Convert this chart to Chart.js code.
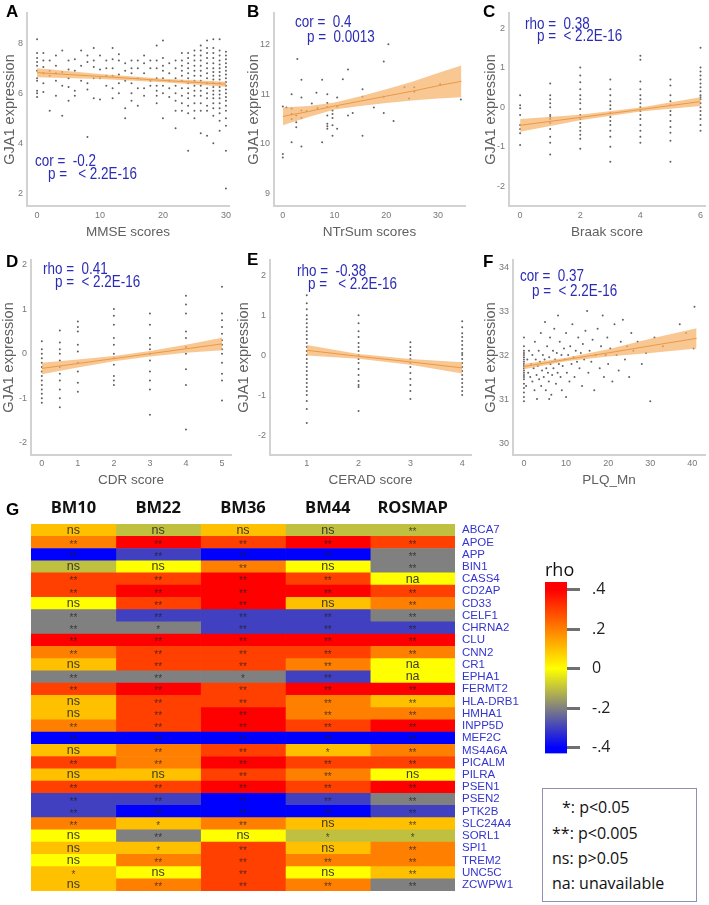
<!DOCTYPE html>
<html><head><meta charset="utf-8">
<script src="https://cdn.jsdelivr.net/npm/chart.js@4.4.1/dist/chart.umd.min.js"></script>
<style>
body{margin:0;background:#fff;width:709px;height:905px;position:relative;overflow:hidden;font-family:"Liberation Sans",Arial,sans-serif}
canvas{position:absolute}
.lbl{position:absolute;font:bold 17px/17px "Liberation Sans",Arial,sans-serif;color:#000}
#rho{position:absolute;left:545px;top:560px;font:18px/18px "Open Sans",sans-serif;color:#111}
#leg{position:absolute;left:542px;top:788px;width:153px;height:112px;border:1px solid #8f8fb0;font:16px "Open Sans",sans-serif;color:#111;box-sizing:content-box}
#leg div{position:absolute;left:9px;line-height:20px}
</style></head><body>
<canvas id="cA" width="235" height="245" style="left:0;top:0"></canvas>
<canvas id="cB" width="235" height="245" style="left:235px;top:0"></canvas>
<canvas id="cC" width="239" height="245" style="left:470px;top:0"></canvas>
<canvas id="cD" width="235" height="250" style="left:0;top:245px"></canvas>
<canvas id="cE" width="240" height="250" style="left:235px;top:245px"></canvas>
<canvas id="cF" width="234" height="250" style="left:475px;top:245px"></canvas>
<canvas id="cG" width="540" height="410" style="left:0;top:495px"></canvas>
<canvas id="cBar" width="120" height="220" style="left:520px;top:555px"></canvas>
<div class="lbl" style="left:6px;top:3px">A</div>
<div class="lbl" style="left:247px;top:3px">B</div>
<div class="lbl" style="left:483px;top:3px">C</div>
<div class="lbl" style="left:6px;top:253px">D</div>
<div class="lbl" style="left:247px;top:251px">E</div>
<div class="lbl" style="left:483px;top:253px">F</div>
<div class="lbl" style="left:6px;top:501px">G</div>
<div id="rho">rho</div>
<div id="leg">
<div style="top:8px;left:19px">*: p&lt;0.05</div>
<div style="top:34px">**: p&lt;0.005</div>
<div style="top:59px">ns: p&gt;0.05</div>
<div style="top:84px">na: unavailable</div>
</div>
<script>
// ---------- Panel A: MMSE ----------
const mmseX = [0,1,2,3,4,5,6,7,8,9,10,11,12,13,14,15,16,17,18,19,20,21,22,23,24,25,26,27,28,29,30];
const mmseY = [
 [8.15,7.6,7.4,7.25,7.1,6.9,6.6,6.5,6.1,6.0,5.85],
 [7.6,7.3,7.05,6.8,6.4,6.05],
 [7.3,6.9,6.7,5.3],
 [7.5,7.1,6.8,6.5,5.9],
 [7.7,6.85,6.3,5.1],
 [7.3,6.95,6.6,6.25,5.7],
 [7.35,6.9,6.1,5.9],
 [7.7,7.1,6.5],
 [7.5,7.25,6.4,6.15,4.25],
 [7.8,7.3,7.05,6.6,5.8],
 [7.5,6.95,6.6,5.75],
 [7.3,7.0,6.7,6.3],
 [7.8,7.35,7.0,6.7,6.2,5.8],
 [7.55,7.3,6.75,6.4,6.0],
 [7.2,6.9,6.5,5.4,5.0],
 [7.3,7.0,6.8,6.4,6.0,5.7],
 [7.3,7.0,6.6,6.2,5.5],
 [7.5,7.2,6.8,6.2,5.9],
 [7.3,7.0,6.5,6.3],
 [7.9,7.3,7.0,6.6,6.3,6.1,5.9,5.6],
 [8.1,7.4,7.1,6.9,6.6,6.3,6.0,5.0],
 [7.2,6.8,6.5,6.2,5.85],
 [7.3,7.0,6.6,6.3,6.0,5.7,5.3,4.6],
 [7.6,7.3,7.1,6.9,6.7,6.5,6.2,5.9,5.6,5.3],
 [7.6,7.4,7.2,7.0,6.8,6.6,6.4,6.2,6.0,5.8,5.5,5.2,3.7],
 [7.7,7.5,7.3,7.1,6.9,6.7,6.5,6.3,6.1,5.9,5.6,5.3,5.0],
 [7.9,7.7,7.5,7.3,7.1,6.9,6.7,6.5,6.3,6.1,5.9,5.6,5.3,4.4],
 [8.1,7.8,7.6,7.4,7.2,7.0,6.8,6.6,6.4,6.2,6.0,5.8,5.5,5.3,4.3],
 [8.15,7.8,7.6,7.4,7.2,7.0,6.85,6.7,6.55,6.4,6.25,6.1,5.95,5.8,5.6,5.4,5.1,4.0],
 [8.15,7.7,7.5,7.3,7.15,7.0,6.85,6.7,6.55,6.4,6.25,6.1,5.95,5.8,5.6,5.4,5.2,4.9,4.5],
 [7.65,7.5,7.35,7.2,7.05,6.9,6.75,6.6,6.45,6.3,6.15,6.0,5.85,5.7,5.5,5.3,5.0,4.7,3.7,2.2]
];
const mmseFitX = [0,10,20,30];
const mmseFit  = [6.82,6.67,6.51,6.36];
const mmseLo   = [6.64,6.57,6.44,6.26];
const mmseHi   = [7.00,6.77,6.58,6.46];

// ---------- Panel B: NTrSum ----------
const ntrPairs = [[0,10.75],[0,9.79],[0,9.72],[0.7,10.73],[1.7,10.71],[1.7,10.6],[1.7,10.5],[1.7,11.0],[1.7,10.03],
 [2.6,10.57],[2.6,10.43],[2.6,10.33],[3.6,10.67],[3.6,10.52],[3.6,10.93],[3.6,11.29],[3.6,9.94],[2.8,11.71],[4.6,10.66],
 [5.6,10.81],[6.5,11.03],[6.7,10.72],[7.6,11.29],[7.6,10.03],[8.6,11.0],[8.6,10.82],[8.6,10.74],[8.6,10.57],[8.6,10.4],
 [8.6,10.35],[8.6,10.3],[9.6,10.67],[9.6,10.6],[9.6,10.52],[9.6,10.37],[9.6,10.16],[10.5,10.93],[10.5,10.75],[10.5,10.3],
 [11.6,11.3],[12.6,11.5],[12.6,10.57],[13.5,10.62],[15.4,11.1],[15.4,10.95],[15.4,10.16],[17.6,10.73],[19.5,11.66],
 [19.5,10.95],[19.5,10.62],[20.4,12.01],[21.4,10.46],[23.5,11.14],[24.4,10.91],[25.4,11.14],[25.4,11.05],[30.4,11.2],[34.4,10.89]];
const ntrFitX = [0,5,10,15,20,25,30,34.5];
const ntrFit  = [10.55,10.65,10.76,10.86,10.96,11.06,11.17,11.26];
const ntrLo   = [10.37,10.54,10.69,10.76,10.82,10.87,10.91,10.94];
const ntrHi   = [10.73,10.76,10.83,10.96,11.10,11.25,11.43,11.58];

// ---------- Panel C: Braak ----------
const braakX = [0,1,2,3,4,5,6];
const braakY = [
 [0.3,0.05,-0.03,-0.2,-0.45,-0.55,-0.66,-0.96],
 [0.6,0.3,0.2,0.1,0.0,-0.2,-0.25,-0.3,-0.4,-0.55,-0.75,-0.9,-1.2],
 [1.0,0.8,0.63,0.45,0.3,0.2,0.1,-0.05,-0.2,-0.3,-0.4,-0.5,-0.6,-0.7,-0.8,-1.05],
 [0.7,0.45,0.3,0.15,0.05,-0.05,-0.15,-0.25,-0.35,-0.45,-0.6,-0.75,-1.0,-1.38],
 [1.3,1.2,0.65,0.45,0.3,0.2,0.1,0.0,-0.1,-0.2,-0.3,-0.45,-0.6,-0.75,-0.9],
 [0.7,0.55,0.3,0.15,0.05,-0.1,-0.2,-0.35,-0.5,-0.65,-0.85,-1.38],
 [1.5,1.0,0.9,0.8,0.7,0.6,0.5,0.4,0.3,0.25,0.2,0.1,0.0,-0.1,-0.2,-0.3,-0.45,-0.6]
];
const braakFitX = [0,2,4,6];
const braakFit  = [-0.46,-0.26,-0.06,0.14];
const braakLo   = [-0.62,-0.33,-0.11,0.03];
const braakHi   = [-0.30,-0.19,-0.01,0.25];

// ---------- Panel D: CDR ----------
const cdrX = [0,0.5,1,2,3,4,5];
const cdrY = [
 [0.28,0.1,0.0,-0.1,-0.2,-0.3,-0.4,-0.5,-0.6,-0.7,-0.8,-0.9,-1.0,-1.1],
 [0.52,0.25,0.1,0.0,-0.15,-0.3,-0.45,-0.6,-0.8,-1.0,-1.2],
 [0.72,0.6,0.5,0.2,0.05,-0.2,-0.4,-0.65,-0.85],
 [1.0,0.85,0.65,0.35,0.2,0.0,-0.1,-0.25,-0.5,-0.6,-0.7],
 [0.9,0.65,0.35,0.2,0.1,0.0,-0.15,-0.4,-0.6,-0.8,-1.37],
 [1.3,1.1,0.9,0.5,0.35,0.15,0.0,-0.35,-0.7,-1.7],
 [1.5,0.9,0.75,0.6,0.45,0.3,0.2,0.1,0.0,-0.2,-0.45,-0.6,-1.05]
];
const cdrFitX = [0,1,2,3,4,5];
const cdrFit  = [-0.33,-0.22,-0.11,0.0,0.11,0.22];
const cdrLo   = [-0.46,-0.31,-0.17,-0.06,0.02,0.08];
const cdrHi   = [-0.20,-0.13,-0.05,0.06,0.20,0.36];

// ---------- Panel E: CERAD ----------
const ceradX = [1,2,3,4];
const ceradY = [
 [1.5,1.3,1.15,1.0,0.9,0.8,0.7,0.6,0.5,0.4,0.3,0.2,0.1,0.0,-0.1,-0.2,-0.3,-0.4,-0.5,-0.6,-0.7,-0.8,-0.9,-1.0,-1.15,-1.35,-1.7],
 [1.0,0.8,0.6,0.45,0.3,0.2,0.1,0.0,-0.1,-0.2,-0.35,-0.5,-0.65,-0.75,-0.8,-1.4],
 [0.32,0.2,0.1,0.0,-0.1,-0.2,-0.3,-0.45,-0.6,-0.75,-0.9,-1.1],
 [0.85,0.7,0.55,0.45,0.35,0.25,0.15,0.05,0.0,-0.1,-0.2,-0.3,-0.4,-0.5,-0.6,-0.7,-0.8,-0.9,-1.0]
];
const ceradFitX = [1,2,3,4];
const ceradFit  = [0.12,-0.03,-0.17,-0.32];
const ceradLo   = [-0.01,-0.09,-0.24,-0.46];
const ceradHi   = [0.25,0.03,-0.10,-0.18];

// ---------- Panel F: PLQ_Mn ----------
const plqZeroY = [30.95,31.05,31.15,31.25,31.35,31.45,31.5,31.55,31.6,31.65,31.7,31.75,31.8,31.85,31.9,31.95,32.0,32.05,32.1,32.2,32.4];
const plqPairs = [[0.5,31.3],[0.8,31.9],[1,31.6],[1.2,32.1],[1.5,31.5],[1.7,31.8],[2,31.4],[2,32.0],[2.3,31.7],[2.5,31.2],
 [2.6,32.3],[2.8,31.9],[3,31.55],[3.1,31.0],[3.3,31.75],[3.5,32.1],[3.6,31.45],[3.8,31.85],[4,32.5],[4.1,31.3],[4.3,31.65],
 [4.5,32.0],[4.7,31.5],[4.9,31.9],[5,32.75],[5.2,31.2],[5.3,31.7],[5.5,32.2],[5.7,31.6],[5.9,31.4],[6,31.95],[6.2,32.4],
 [6.3,31.8],[6.5,31.1],[6.7,31.55],[6.9,32.1],[7,31.7],[7.2,32.6],[7.4,31.9],[7.6,31.35],[7.8,32.05],[8,31.6],[8.1,32.9],
 [8.3,31.8],[8.5,32.3],[8.7,31.5],[8.9,32.0],[9,31.2],[9.2,31.75],[9.5,32.15],[9.7,31.9],[10,32.5],[10.2,31.6],[10.5,32.0],
 [10.8,31.4],[11,32.2],[11.3,31.8],[11.5,32.7],[11.8,31.95],[12,31.5],[12.3,32.1],[12.6,31.85],[12.9,32.4],[13.2,31.7],
 [13.5,32.05],[13.8,31.3],[14,32.25],[14.3,31.9],[14.6,32.55],[15,33.0],[15.3,31.6],[15.6,32.1],[16,31.85],[16.3,32.35],
 [16.7,31.2],[17,32.0],[17.5,32.6],[18,31.7],[18.3,32.2],[18.7,32.9],[19,31.5],[19.4,32.0],[19.8,32.4],[20,31.8],[20.5,32.15],
 [21,31.4],[21.5,32.7],[22,32.0],[22.5,31.65],[23,32.3],[23.5,32.8],[24,31.9],[24.5,32.2],[25,31.5],[25.5,32.5],[26,32.1],
 [27,32.3],[28,31.8],[29,32.05],[30,30.95],[31,32.4],[33,32.2],[37,32.7],[38.5,32.5],[40.5,33.1],[40.3,32.15],[6,31.0],[10,31.05]];
const plqFitX = [0,10,20,30,41];
const plqFit  = [31.74,31.90,32.05,32.21,32.38];
const plqLo   = [31.68,31.86,31.97,32.05,32.15];
const plqHi   = [31.80,31.94,32.13,32.37,32.61];

// ---------- Panel G: heatmap ----------
const genes = ['ABCA7','APOE','APP','BIN1','CASS4','CD2AP','CD33','CELF1','CHRNA2','CLU','CNN2','CR1','EPHA1','FERMT2','HLA-DRB1','HMHA1','INPP5D','MEF2C','MS4A6A','PICALM','PILRA','PSEN1','PSEN2','PTK2B','SLC24A4','SORL1','SPI1','TREM2','UNC5C','ZCWPW1'];
const colNames = ['BM10','BM22','BM36','BM44','ROSMAP'];
const rhoBM10   = [0.1,0.2,-0.4,-0.1,0.3,0.3,0,-0.2,-0.2,0.4,0.2,0.1,-0.2,0.3,0.1,0.1,0.2,-0.4,0.1,0.3,0.1,0.3,-0.3,-0.3,0.2,0,0.1,0,0.1,0.1];
const rhoBM22   = [-0.1,0.4,-0.3,0,0.3,0.4,0.3,-0.3,-0.2,0.4,0.3,0.3,-0.2,0.4,0.3,0.3,0.3,-0.4,0.2,0.2,0.1,0.3,-0.3,-0.4,0.1,-0.2,0.1,0.2,0,0.2];
const rhoBM36   = [0.1,0.3,-0.4,0.2,0.4,0.4,0.4,-0.3,-0.3,0.4,0.3,0.3,-0.2,0.3,0.3,0.4,0.4,-0.4,0.3,0.4,0.3,0.4,-0.4,-0.4,0.2,0,0.3,0.3,0.3,0.3];
const rhoBM44   = [-0.1,0.4,-0.4,0,0.3,0.4,0.1,-0.3,-0.3,0.4,0.3,0.2,-0.3,0.4,0.2,0.2,0.3,-0.4,0.1,0.3,0.2,0.3,-0.3,-0.4,0.1,-0.1,0.1,0.2,0,0.2];
const rhoROSMAP = [-0.1,0.3,-0.2,-0.2,null,0.3,0.2,-0.2,-0.3,0.4,0.2,null,null,0.4,0.1,0.2,0.4,-0.4,0.2,0.3,0,0.4,-0.2,-0.3,0.1,-0.1,0.2,0.2,0.1,-0.2];
const sigBM10   = ['ns','**','**','ns','**','**','ns','**','**','**','**','ns','**','**','ns','ns','**','**','ns','**','ns','**','**','**','**','ns','ns','ns','*','ns'];
const sigBM22   = ['ns','**','**','ns','**','**','**','**','*','**','**','**','**','**','**','**','**','**','**','**','ns','**','**','**','*','**','*','**','ns','**'];
const sigBM36   = ['ns','**','**','**','**','**','**','**','**','**','**','**','*','**','**','**','**','**','**','**','**','**','**','**','**','ns','**','**','**','**'];
const sigBM44   = ['ns','**','**','ns','**','**','ns','**','**','**','**','**','**','**','**','**','**','**','*','**','**','**','**','**','ns','*','ns','**','ns','**'];
const sigROSMAP = ['**','**','**','**','na','**','**','**','**','**','**','na','na','**','**','**','**','**','**','**','ns','**','**','**','**','*','**','**','**','**'];

// colour scale
const rhoStops   = [-0.4,-0.3,-0.2,-0.1,0,0.1,0.2,0.3,0.4];
const stopColors = ['#0000ff','#4040c0','#808080','#c0c040','#ffff00','#ffc000','#ff8000','#ff4000','#ff0000'];
const naColor = '#ffff00';
const cbMin = -0.43, cbMax = 0.44;
const cbTicks = [-0.4,-0.2,0,0.2,0.4];
const cbTickLabels = ['-.4','-.2','0','.2','.4'];

const NARROW = '"Liberation Sans Narrow","Liberation Sans",Arial,sans-serif';
const SANS = '"Liberation Sans",Arial,sans-serif';

function hexRgb(h){return [1,3,5].map(i=>parseInt(h.substr(i,2),16));}
function rhoColor(v){
  if (v === null) return naColor;
  const c = Math.max(rhoStops[0], Math.min(rhoStops[rhoStops.length-1], v));
  for (let i=0;i<rhoStops.length-1;i++){
    if (c <= rhoStops[i+1] + 1e-9){
      const t = (c - rhoStops[i])/(rhoStops[i+1]-rhoStops[i]);
      const a = hexRgb(stopColors[i]), b = hexRgb(stopColors[i+1]);
      const m = a.map((x,k)=>Math.round(x+(b[k]-x)*t));
      return 'rgb('+m.join(',')+')';
    }
  }
  return stopColors[stopColors.length-1];
}

function pairs(xs, ys){ return xs.map((x,i)=>({x:x, y:ys[i]})); }
function columns(xs, lists){ const out=[]; lists.forEach((ys,i)=>ys.forEach(y=>out.push({x:xs[i], y:y}))); return out; }

const annotPlugin = {
  id:'annot',
  afterDraw(chart, args, opts){
    const ctx = chart.ctx;
    (opts.lines||[]).forEach(l=>{
      ctx.save();
      ctx.fillStyle = opts.color; ctx.font = opts.font; ctx.textBaseline = 'middle';
      ctx.translate(l[1], l[2]); ctx.scale(0.84, 1);
      ctx.fillText(l[0], 0, 0);
      ctx.restore();
    });
  }
};

function makePanel(id, c){
  const datasets = [
    {data:c.pts, pointRadius:1, pointBackgroundColor:'#606060', pointBorderWidth:0, order:3},
    {data:pairs(c.fitX,c.lo), showLine:true, pointRadius:0, borderWidth:0, borderColor:'rgba(0,0,0,0)', fill:false, order:2},
    {data:pairs(c.fitX,c.hi), showLine:true, pointRadius:0, borderWidth:0, borderColor:'rgba(0,0,0,0)', fill:'-1', backgroundColor:'rgba(246,178,104,0.72)', order:2},
    {data:pairs(c.fitX,c.fit), showLine:true, pointRadius:0, borderWidth:1, borderColor:'#e8994a', order:1}
  ];
  new Chart(document.getElementById(id), {
    type:'scatter', data:{datasets}, plugins:[annotPlugin],
    options:{
      responsive:false, animation:false,
      layout:{padding:{left:c.padL, right:c.padR, top:c.padT, bottom:0}},
      plugins:{legend:{display:false}, tooltip:{enabled:false},
        annot:{lines:c.annot, color:'#2b2bb5', font:'16px '+SANS}},
      scales:{
        x:{type:'linear', min:c.xMin, max:c.xMax,
          afterBuildTicks:s=>{s.ticks=c.xTicks.map(v=>({value:v}));},
          afterFit:s=>{s.height=c.xH;},
          grid:{display:false, drawTicks:false},
          border:{display:true, color:'#d2d2d2', width:2},
          ticks:{padding:c.xPad, color:'#777', font:{size:9, family:SANS}, maxRotation:0, autoSkip:false},
          title:{display:true, text:c.xTitle, color:'#606060', font:{size:13.5, family:SANS}, padding:{top:0, bottom:c.xTitlePad}}},
        y:{type:'linear', min:c.yMin, max:c.yMax,
          afterBuildTicks:s=>{s.ticks=c.yTicks.map(v=>({value:v}));},
          afterFit:s=>{s.width=c.yW;},
          grid:{display:false, drawTicks:false},
          border:{display:true, color:'#d2d2d2', width:2},
          ticks:{padding:4, color:'#777', font:{size:9, family:SANS}, autoSkip:false},
          title:{display:true, text:'GJA1 expression', color:'#606060', font:{size:14.5, family:SANS}, padding:{top:c.yTitlePad, bottom:0}}}
      }
    }
  });
}

makePanel('cA', {pts:columns(mmseX,mmseY), fitX:mmseFitX, fit:mmseFit, lo:mmseLo, hi:mmseHi,
  padL:0, padR:5, padT:13, yW:27, xH:39, xPad:4, xTitlePad:5, yTitlePad:1,
  xMin:-1.6, xMax:30.5, yMin:1.5, yMax:9.2, xTicks:[0,10,20,30], yTicks:[2,4,6,8], xTitle:'MMSE scores',
  annot:[['cor =  -0.2',35,162],['p =   < 2.2E-16',48,175]]});
makePanel('cB', {pts:ntrPairs.map(p=>({x:p[0],y:p[1]})), fitX:ntrFitX, fit:ntrFit, lo:ntrLo, hi:ntrHi,
  padL:8, padR:5, padT:13, yW:31, xH:39, xPad:4, xTitlePad:5, yTitlePad:2,
  xMin:-1.7, xMax:35.2, yMin:8.74, yMax:12.64, xTicks:[0,10,20,30], yTicks:[9,10,11,12], xTitle:'NTrSum scores',
  annot:[['cor =  0.4',60,23],['p =  0.0013',72,38]]});
makePanel('cC', {pts:columns(braakX,braakY), fitX:braakFitX, fit:braakFit, lo:braakLo, hi:braakHi,
  padL:10, padR:4, padT:13, yW:29, xH:39, xPad:4, xTitlePad:5, yTitlePad:2,
  xMin:-0.37, xMax:6.15, yMin:-2.5, yMax:2.38, xTicks:[0,2,4,6], yTicks:[-2,-1,0,1,2], xTitle:'Braak score',
  annot:[['rho =  0.38',55,25],['p =  < 2.2E-16',67,37]]});
makePanel('cD', {pts:columns(cdrX,cdrY), fitX:cdrFitX, fit:cdrFit, lo:cdrLo, hi:cdrHi,
  padL:0, padR:2, padT:15, yW:31, xH:40, xPad:3.5, xTitlePad:7, yTitlePad:0,
  xMin:-0.3, xMax:5.25, yMin:-2.27, yMax:2.1, xTicks:[0,1,2,3,4,5], yTicks:[-2,-1,0,1,2], xTitle:'CDR score',
  annot:[['rho =  0.41',43,25],['p =  < 2.2E-16',55,38]]});
makePanel('cE', {pts:columns(ceradX,ceradY), fitX:ceradFitX, fit:ceradFit, lo:ceradLo, hi:ceradHi,
  padL:0, padR:3, padT:15, yW:35, xH:40, xPad:3.5, xTitlePad:7, yTitlePad:0,
  xMin:0.29, xMax:4.17, yMin:-2.5, yMax:2.38, xTicks:[1,2,3,4], yTicks:[-2,-1,0,1,2], xTitle:'CERAD score',
  annot:[['rho =  -0.38',62,27],['p =   < 2.2E-16',73,40]]});
makePanel('cF', {pts:plqZeroY.map(y=>({x:0,y:y})).concat(plqPairs.map(p=>({x:p[0],y:p[1]}))), fitX:plqFitX, fit:plqFit, lo:plqLo, hi:plqHi,
  padL:6, padR:1, padT:15, yW:32, xH:40, xPad:3.5, xTitlePad:7, yTitlePad:1,
  xMin:-2.6, xMax:43, yMin:29.73, yMax:34.16, xTicks:[0,10,20,30,40], yTicks:[30,31,32,33,34], xTitle:'PLQ_Mn',
  annot:[['cor =  0.37',45,32],['p =  < 2.2E-16',57,47]]});

// heatmap
const hmCols = [rhoBM10, rhoBM22, rhoBM36, rhoBM44, rhoROSMAP];
const sigCols = [sigBM10, sigBM22, sigBM36, sigBM44, sigROSMAP];
const cellText = {
  id:'cellText',
  afterDatasetsDraw(chart){
    const ctx = chart.ctx; ctx.save();
    ctx.textAlign='center'; ctx.textBaseline='middle';
    chart.data.datasets.forEach((ds,i)=>{
      chart.getDatasetMeta(i).data.forEach((el,j)=>{
        const p = el.getCenterPoint();
        const t = sigCols[i][j];
        const star = t.indexOf('*')===0;
        ctx.fillStyle = star ? 'rgba(30,30,30,0.75)' : '#3a3a2a';
        ctx.font = star ? '10px '+SANS : '12.5px '+NARROW;
        ctx.fillText(t, p.x, p.y + (star ? 2.5 : 0));
      });
    });
    ctx.restore();
  }
};
new Chart(document.getElementById('cG'), {
  type:'bar',
  data:{labels:genes, datasets:hmCols.map((col,i)=>({label:colNames[i], data:genes.map(()=>1),
    backgroundColor:col.map(rhoColor), borderWidth:0, barPercentage:1, categoryPercentage:1}))},
  plugins:[cellText],
  options:{
    indexAxis:'y', responsive:false, animation:false,
    layout:{padding:{left:31, right:0, top:0, bottom:2}},
    plugins:{legend:{display:false}, tooltip:{enabled:false}},
    scales:{
      x:{type:'linear', position:'top', stacked:true, min:0, max:colNames.length,
        afterBuildTicks:s=>{s.ticks=colNames.map((n,i)=>({value:i+0.5}));},
        afterFit:s=>{s.height=29;},
        grid:{display:false, drawTicks:false}, border:{display:false},
        ticks:{padding:6, color:'#111', font:{size:16.5, weight:'bold', family:'"Open Sans",sans-serif'},
          callback:(v,i)=>colNames[i], maxRotation:0, autoSkip:false}},
      y:{type:'category', position:'right', stacked:true,
        afterFit:s=>{s.width=85;},
        grid:{display:false, drawTicks:false}, border:{display:false},
        ticks:{padding:7, color:'#3535d0', font:{size:11.5, family:NARROW}, autoSkip:false}}
    }
  }
});

// colour bar
new Chart(document.getElementById('cBar'), {
  type:'bar',
  data:{labels:['rho'], datasets:[{data:[[cbMin,cbMax]], barPercentage:1, categoryPercentage:1, borderWidth:0,
    backgroundColor:(ctx)=>{
      const ch = ctx.chart; if(!ch.chartArea) return stopColors[4];
      const y = ch.scales.y;
      const g = ch.ctx.createLinearGradient(0, y.getPixelForValue(cbMin), 0, y.getPixelForValue(cbMax));
      g.addColorStop(0, stopColors[0]);
      rhoStops.forEach((s,k)=>g.addColorStop((s-cbMin)/(cbMax-cbMin), stopColors[k]));
      g.addColorStop(1, stopColors[stopColors.length-1]);
      return g;
    }}]},
  options:{
    responsive:false, animation:false,
    layout:{padding:{left:25, right:0, top:27, bottom:0}},
    plugins:{legend:{display:false}, tooltip:{enabled:false}},
    scales:{
      x:{display:false},
      y:{position:'right', min:cbMin, max:cbMax,
        afterBuildTicks:s=>{s.ticks=cbTicks.map(v=>({value:v}));},
        afterFit:s=>{s.width=73;},
        grid:{display:true, drawOnChartArea:false, drawTicks:true, tickLength:13, tickWidth:3, tickColor:'#707070'},
        border:{display:false},
        ticks:{padding:12, color:'#222', font:{size:16, family:'"Open Sans",sans-serif'},
          callback:(v,i)=>cbTickLabels[i]}}
    }
  }
});
</script>
</body></html>
